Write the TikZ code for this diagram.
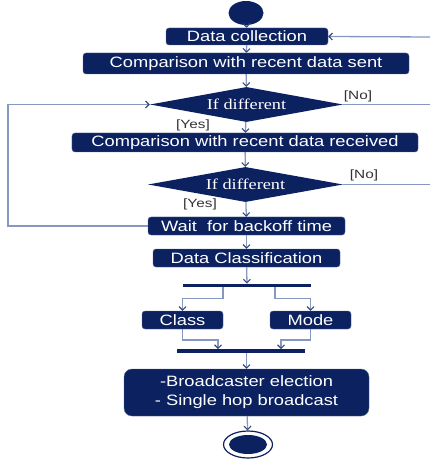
\documentclass[tikz,border=0pt]{standalone}
\usepackage{fontspec}
\setmainfont{Liberation Serif}
\setsansfont{Liberation Sans}
\usepackage{graphicx}
\usetikzlibrary{shapes.geometric,arrows.meta}
\definecolor{navy}{RGB}{12,33,96}
\definecolor{flow}{RGB}{135,152,192}
\definecolor{tipc}{RGB}{55,75,125}
\definecolor{lbl}{RGB}{50,50,55}
\newcommand{\wide}[1]{\scalebox{1.22}[1]{#1}}
\tikzset{
  actbox/.style={draw=navy!70, fill=navy, text=white, rounded corners=3bp, inner sep=0pt,
    font=\sffamily\fontsize{15bp}{18bp}\selectfont},
  decision/.style={diamond, fill=navy, text=white, inner sep=0pt, aspect=5.5,
    font=\rmfamily\fontsize{15bp}{18bp}\selectfont},
  forkbar/.style={fill=navy, inner sep=0pt, minimum height=3.5bp},
  guard/.style={text=lbl, inner sep=0pt, font=\sffamily\fontsize{12bp}{14bp}\selectfont},
  flowline/.style={draw=flow, line width=1.3bp, -{Straight Barb[length=3.5bp,width=7bp,line width=1.1bp,color=tipc]}},
  plainline/.style={draw=flow, line width=1.3bp},
}
\begin{document}
\begin{tikzpicture}[x=1bp,y=-1bp]
\useasboundingbox (0,0) rectangle (430,466);
% start node
\node[ellipse, fill=navy, minimum width=35bp, minimum height=24bp, inner sep=0pt] (start) at (246,13) {};
% activity boxes
\node[actbox, minimum width=162bp, minimum height=17bp] (dc) at (247,36.5) {\wide{Data collection}};
\node[actbox, minimum width=326bp, minimum height=21bp] (cs) at (246,63.5) {\wide{Comparison with recent data sent}};
\node[decision, minimum width=193bp, minimum height=35bp] (d1) at (246.5,104.5) {\wide{If different}};
\node[actbox, minimum width=346bp, minimum height=19bp] (cr) at (245,142.5) {\wide{Comparison with recent data received}};
\node[decision, minimum width=195bp, minimum height=35bp] (d2) at (245.5,184.5) {\wide{If different}};
\node[actbox, minimum width=197bp, minimum height=18bp] (wt) at (246.5,226) {\wide{Wait\ \ for backoff time}};
\node[actbox, minimum width=187bp, minimum height=18bp] (cl) at (246.5,258) {\wide{Data Classification}};
\node[forkbar, minimum width=128bp] (bar1) at (247,285.5) {};
\node[actbox, minimum width=81bp, minimum height=18bp] (class) at (182.5,320) {\wide{Class}};
\node[actbox, minimum width=81bp, minimum height=18bp] (mode) at (310.5,320) {\wide{Mode}};
\node[forkbar, minimum width=128bp] (bar2) at (241,351) {};
\node[actbox, rounded corners=8bp, minimum width=245bp, minimum height=47bp, align=center] (fin) at (246.5,392.5)
  {\wide{-Broadcaster election}\\[1bp]\wide{- Single hop broadcast}};
% end node
\node[ellipse, draw=navy, line width=1.2bp, fill=white, minimum width=49bp, minimum height=27bp, inner sep=0pt] (endo) at (248,444.5) {};
\node[ellipse, fill=navy, minimum width=38bp, minimum height=19bp, inner sep=0pt] (endi) at (248,444.5) {};
% guard labels
\node[guard] (no1) at (358,96) {\scalebox{1.28}[1]{[No]}};
\node[guard] (yes1) at (193,125.5) {\scalebox{1.28}[1]{[Yes]}};
\node[guard] (no2) at (364,175.5) {\scalebox{1.28}[1]{[No]}};
\node[guard] (yes2) at (200,204.5) {\scalebox{1.28}[1]{[Yes]}};
% free ends
\coordinate (rin) at (430,37);
\coordinate (rout1) at (430,104.5);
\coordinate (rout2) at (430,184.5);
\coordinate (lft) at (8,226);
% fork / join taps
\coordinate (f1) at ([xshift=-24bp]bar1.south);
\coordinate (f2) at ([xshift=28bp]bar1.south);
\coordinate (j1) at ([xshift=-23bp]bar2.north);
\coordinate (j2) at ([xshift=40bp]bar2.north);
% main flow
\draw[flowline] (start) -- (dc);
\draw[flowline] (dc) -- (cs);
\draw[flowline] (cs) -- (d1);
\draw[flowline] (d1) -- (cr);
\draw[flowline] (cr) -- (d2);
\draw[flowline] (d2) -- (wt);
\draw[flowline] (wt) -- (cl);
\draw[flowline] (cl) -- (bar1);
\draw[flowline] (f1) -- ++(0,11) -| (class.north);
\draw[flowline] (f2) -- ++(0,11) -| (mode.north);
\draw[flowline] (class.south) |- ([yshift=9bp]j1) -- (j1);
\draw[flowline] (mode.south) |- ([yshift=9bp]j2) -- (j2);
\draw[flowline] (bar2.south -| fin.north) -- (fin.north);
\draw[flowline] (fin) -- (endo);
% side lines
\draw[flowline] (rin) -- (dc.east);
\draw[plainline] (d1.east) -- (rout1);
\draw[plainline] (d2.east) -- (rout2);
\draw[flowline] (wt.west) -- (lft) |- (d1.west);
\end{tikzpicture}
\end{document}
